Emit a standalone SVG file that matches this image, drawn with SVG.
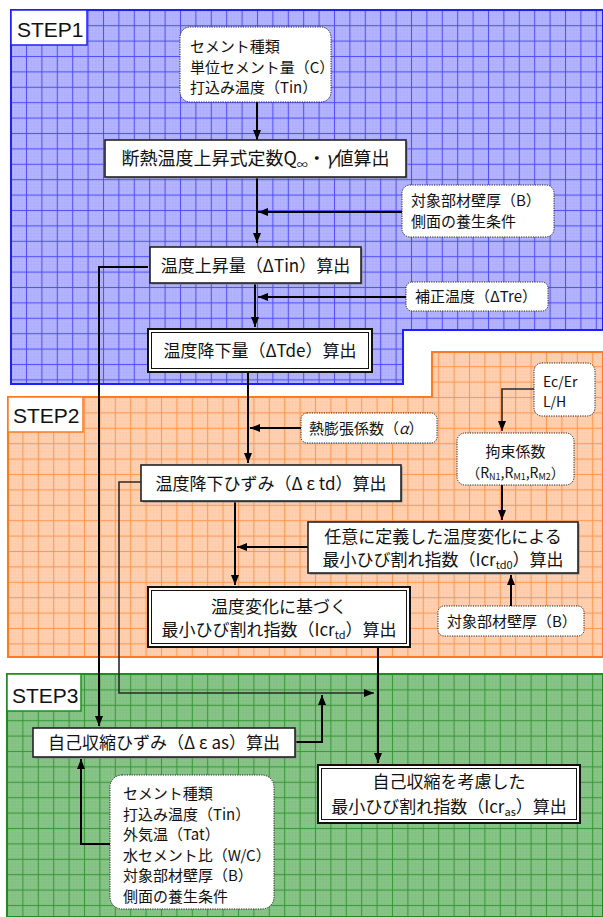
<svg xmlns="http://www.w3.org/2000/svg" width="603" height="917" viewBox="0 0 603 917">
<style>
.t{font-family:"Noto Sans CJK JP","Noto Sans",sans-serif;fill:#111;}
.step{font-family:"Liberation Sans",Arial,sans-serif;font-size:21px;fill:#111;}
.box{fill:#fff;stroke:#222;stroke-width:1.6;}
.shadow{fill:#888;}
.in{fill:#fff;stroke:#222;stroke-width:1;stroke-dasharray:1.2 1.2;}
.dbo{fill:#fff;stroke:#111;stroke-width:2;}
.dbi{fill:none;stroke:#111;stroke-width:1;}
.c{fill:none;stroke:#000;stroke-width:2;}
.c2{fill:none;stroke:#2a2a2a;stroke-width:1.6;}
</style>
<defs>
<marker id="ah" markerWidth="10" markerHeight="8" refX="10" refY="4" orient="auto" markerUnits="userSpaceOnUse">
<path d="M0,0 L10,4 L0,8 Z" fill="#000"/>
</marker>
<pattern id="gb" x="10.6" y="9.8" width="15.4" height="15.4" patternUnits="userSpaceOnUse">
<rect width="15.4" height="15.4" fill="#ababfd"/>
<path d="M3.58 0V15.4M6.66 0V15.4M9.74 0V15.4M12.82 0V15.4M0 3.58H15.4M0 6.66H15.4M0 9.74H15.4M0 12.82H15.4" stroke="#bcbcff" stroke-width="0.6"/>
<path d="M0.5 0V15.4M0 0.5H15.4" stroke="#4848f8" stroke-width="0.9"/>
</pattern>
<pattern id="go" x="7" y="397" width="15.4" height="15.4" patternUnits="userSpaceOnUse">
<rect width="15.4" height="15.4" fill="#ffc9a6"/>
<path d="M3.58 0V15.4M6.66 0V15.4M9.74 0V15.4M12.82 0V15.4M0 3.58H15.4M0 6.66H15.4M0 9.74H15.4M0 12.82H15.4" stroke="#ffd6bc" stroke-width="0.6"/>
<path d="M0.5 0V15.4M0 0.5H15.4" stroke="#ff944a" stroke-width="0.9"/>
</pattern>
<pattern id="gg" x="7" y="674" width="15.4" height="15.4" patternUnits="userSpaceOnUse">
<rect width="15.4" height="15.4" fill="#80be80"/>
<path d="M3.58 0V15.4M6.66 0V15.4M9.74 0V15.4M12.82 0V15.4M0 3.58H15.4M0 6.66H15.4M0 9.74H15.4M0 12.82H15.4" stroke="#8ec98e" stroke-width="0.6"/>
<path d="M0.5 0V15.4M0 0.5H15.4" stroke="#339433" stroke-width="0.9"/>
</pattern>
</defs>
<rect width="603" height="917" fill="#fff"/>

<g id="panels">
<path d="M11,10 H603 V330 H403 V384 H11 Z" fill="url(#gb)" stroke="#2020ff" stroke-width="2"/>
<path d="M432,352 H603 V657 H8 V397 H432 Z" fill="url(#go)" stroke="#ff7a22" stroke-width="2"/>
<path d="M7,674 H603 V917 H7 Z" fill="url(#gg)" stroke="#1f8c1f" stroke-width="2"/>
</g>

<g id="step1"><rect x="11" y="10" width="76" height="35" fill="#fff" stroke="#2020ff" stroke-width="1.5"/><text class="step" x="17" y="37">STEP1</text></g>
<g id="step2"><rect x="8" y="397" width="75" height="35" fill="#fff" stroke="#ff7a22" stroke-width="1.5"/><text class="step" x="13" y="423">STEP2</text></g>
<g id="step3"><rect x="7" y="674" width="74" height="37" fill="#fff" stroke="#1f8c1f" stroke-width="1.5"/><text class="step" x="12" y="703">STEP3</text></g>

<g id="connectors">
<path class="c" d="M257,102 V140" marker-end="url(#ah)"/>
<path class="c" d="M257,177 V243" marker-end="url(#ah)"/>
<path class="c" d="M402,212 H258" marker-end="url(#ah)"/>
<path class="c" d="M255,283 V327" marker-end="url(#ah)"/>
<path class="c" d="M406,297 H258" marker-end="url(#ah)"/>
<path class="c" d="M148,267 H99 V726" marker-end="url(#ah)"/>
<path class="c" d="M248,372 V463" marker-end="url(#ah)"/>
<path class="c" d="M301,428 H250" marker-end="url(#ah)"/>
<path class="c2" d="M141,482 H119 V693 H374" marker-end="url(#ah)"/>
<path class="c" d="M235,501 V585" marker-end="url(#ah)"/>
<path class="c" d="M308,547 H237" marker-end="url(#ah)"/>
<path class="c" d="M378,647 V763" marker-end="url(#ah)"/>
<path class="c2" d="M534,389 H502 V431" marker-end="url(#ah)"/>
<path class="c" d="M502,485 V520" marker-end="url(#ah)"/>
<path class="c" d="M511,606 V575" marker-end="url(#ah)"/>
<path class="c" d="M295,742 H322 V695" marker-end="url(#ah)"/>
<path class="c" d="M110,844 H81 V759" marker-end="url(#ah)"/>
</g>

<g id="in1">
<rect class="in" x="180" y="27" width="151" height="75" rx="10"/>
<text class="t" font-size="15" x="190" y="52">セメント種類</text>
<text class="t" font-size="15" x="190" y="73">単位セメント量（C）</text>
<text class="t" font-size="15" x="190" y="93">打込み温度（Tin）</text>
</g>

<g id="n1">
<rect class="shadow" x="106.5" y="141.5" width="301" height="37"/>
<rect class="box" x="105" y="140" width="301" height="37"/>
<text class="t" font-size="18" x="255.5" y="165" text-anchor="middle">断熱温度上昇式定数Q<tspan font-size="11" dy="4">∞</tspan><tspan dy="-4">・</tspan><tspan font-style="italic">γ</tspan>値算出</text>
</g>

<g id="in2">
<rect class="in" x="402" y="185" width="152" height="52" rx="8"/>
<text class="t" font-size="15" x="411" y="206">対象部材壁厚（B）</text>
<text class="t" font-size="15" x="411" y="227">側面の養生条件</text>
</g>

<g id="n2">
<rect class="shadow" x="151.5" y="248.5" width="211" height="36"/>
<rect class="box" x="150" y="247" width="211" height="36"/>
<text class="t" font-size="17" x="255.5" y="272" text-anchor="middle">温度上昇量（ΔTin）算出</text>
</g>

<g id="in3">
<rect class="in" x="406" y="282" width="142" height="29" rx="6"/>
<text class="t" font-size="15" x="415" y="302">補正温度（ΔTre）</text>
</g>

<g id="n3">
<rect class="dbo" x="148" y="329" width="224" height="43"/>
<rect class="dbi" x="151.5" y="332.5" width="217" height="36"/>
<text class="t" font-size="17" x="260" y="357" text-anchor="middle">温度降下量（ΔTde）算出</text>
</g>

<g id="in4">
<rect class="in" x="301" y="413" width="136" height="30" rx="6"/>
<text class="t" font-size="15" x="309" y="434">熱膨張係数（<tspan font-style="italic">α</tspan>）</text>
</g>

<g id="n4">
<rect class="shadow" x="142.5" y="466.5" width="260" height="36"/>
<rect class="box" x="141" y="465" width="260" height="36"/>
<text class="t" font-size="17" x="271" y="490" text-anchor="middle">温度降下ひずみ（Δ ε td）算出</text>
</g>

<g id="in5">
<rect class="in" x="534" y="363" width="61" height="53" rx="8"/>
<text class="t" font-size="14" x="543" y="387">Ec/Er</text>
<text class="t" font-size="14" x="543" y="407">L/H</text>
</g>

<g id="in6">
<rect class="in" x="457" y="433" width="117" height="52" rx="8"/>
<text class="t" font-size="15" x="515.5" y="457" text-anchor="middle">拘束係数</text>
<text class="t" font-size="14" x="515.5" y="478" text-anchor="middle">（R<tspan font-size="9" dy="2">N1</tspan><tspan dy="-2">,R</tspan><tspan font-size="9" dy="2">M1</tspan><tspan dy="-2">,R</tspan><tspan font-size="9" dy="2">M2</tspan><tspan dy="-2">）</tspan></text>
</g>

<g id="n5">
<rect class="shadow" x="309.5" y="523.5" width="270" height="51"/>
<rect class="box" x="308" y="522" width="270" height="51"/>
<text class="t" font-size="17" x="443" y="543" text-anchor="middle">任意に定義した温度変化による</text>
<text class="t" font-size="17" x="443" y="566" text-anchor="middle">最小ひび割れ指数（Icr<tspan font-size="11" dy="3">td0</tspan><tspan dy="-3">）算出</tspan></text>
</g>

<g id="in7">
<rect class="in" x="438" y="606" width="146" height="30" rx="6"/>
<text class="t" font-size="15" x="447" y="627">対象部材壁厚（B）</text>
</g>

<g id="n6">
<rect class="dbo" x="148" y="587" width="262" height="60"/>
<rect class="dbi" x="151.5" y="590.5" width="255" height="53"/>
<text class="t" font-size="17" x="279" y="613" text-anchor="middle">温度変化に基づく</text>
<text class="t" font-size="17" x="279" y="636" text-anchor="middle">最小ひび割れ指数（Icr<tspan font-size="11" dy="3">td</tspan><tspan dy="-3">）算出</tspan></text>
</g>

<g id="n7">
<rect class="shadow" x="34.5" y="729.5" width="262" height="29"/>
<rect class="box" x="33" y="728" width="262" height="29"/>
<text class="t" font-size="17" x="164" y="749" text-anchor="middle">自己収縮ひずみ（Δ ε as）算出</text>
</g>

<g id="in8">
<rect class="in" x="110" y="775" width="164" height="134" rx="12"/>
<text class="t" font-size="15" x="123" y="799">セメント種類</text>
<text class="t" font-size="15" x="123" y="819.5">打込み温度（Tin）</text>
<text class="t" font-size="15" x="123" y="840">外気温（Tat）</text>
<text class="t" font-size="15" x="123" y="860.5">水セメント比（W/C）</text>
<text class="t" font-size="15" x="123" y="881">対象部材壁厚（B）</text>
<text class="t" font-size="15" x="123" y="901.5">側面の養生条件</text>
</g>

<g id="n8">
<rect class="dbo" x="318" y="765" width="262" height="58"/>
<rect class="dbi" x="321.5" y="768.5" width="255" height="51"/>
<text class="t" font-size="17" x="449" y="788" text-anchor="middle">自己収縮を考慮した</text>
<text class="t" font-size="17" x="449" y="813" text-anchor="middle">最小ひび割れ指数（Icr<tspan font-size="11" dy="3">as</tspan><tspan dy="-3">）算出</tspan></text>
</g>
</svg>
